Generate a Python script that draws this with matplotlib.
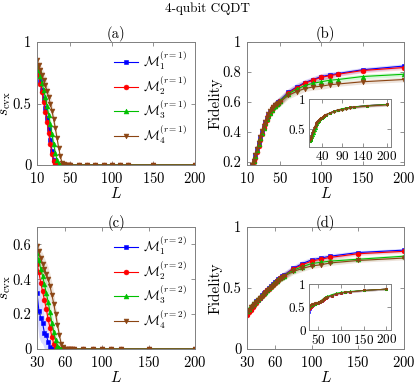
import matplotlib
matplotlib.use("Agg")
import matplotlib.pyplot as plt

plt.rcParams['font.family'] = 'serif'
plt.rcParams['font.serif'] = ['cmr10', 'DejaVu Serif']
plt.rcParams['mathtext.fontset'] = 'cm'
plt.rcParams['axes.formatter.use_mathtext'] = True

# ---------------- data ----------------
L_a = [10, 12, 14, 16, 18, 20, 22, 24, 26, 28, 30, 32, 34, 36, 38, 40, 42, 44, 46, 48, 50,
       60, 70, 80, 90, 100, 110, 120, 150, 200]
s_a1 = [0.80, 0.74, 0.68, 0.61, 0.54, 0.46, 0.38, 0.29, 0.20, 0.11, 0.04, 0.01, 0, 0, 0, 0, 0, 0, 0, 0, 0,
        0, 0, 0, 0, 0, 0, 0, 0, 0]
s_a2 = [0.80, 0.73, 0.66, 0.59, 0.51, 0.43, 0.35, 0.26, 0.17, 0.09, 0.03, 0.005, 0, 0, 0, 0, 0, 0, 0, 0, 0,
        0, 0, 0, 0, 0, 0, 0, 0, 0]
s_a3 = [0.82, 0.77, 0.72, 0.67, 0.61, 0.55, 0.48, 0.41, 0.33, 0.25, 0.17, 0.10, 0.04, 0.01, 0, 0, 0, 0, 0, 0, 0,
        0, 0, 0, 0, 0, 0, 0, 0, 0]
s_a4 = [0.85, 0.81, 0.77, 0.73, 0.69, 0.65, 0.60, 0.55, 0.50, 0.44, 0.37, 0.30, 0.22, 0.14, 0.07, 0.02, 0.005, 0, 0, 0, 0,
        0, 0, 0, 0, 0, 0, 0, 0, 0]
band_a = [0.03, 0.04, 0.05, 0.06, 0.07, 0.07, 0.07, 0.07, 0.07, 0.06, 0.05, 0.04, 0.03, 0.02, 0.01, 0.005, 0, 0, 0, 0, 0,
          0, 0, 0, 0, 0, 0, 0, 0, 0]

L_b = [16, 18, 20, 22, 24, 26, 28, 30, 32, 34, 36, 38, 40, 42, 44, 46, 48, 50,
       60, 70, 80, 90, 100, 110, 120, 150, 200]
f_b1 = [0.18, 0.21, 0.25, 0.29, 0.33, 0.37, 0.40, 0.435, 0.465, 0.49, 0.515, 0.535, 0.555, 0.57, 0.58, 0.59, 0.60, 0.61,
        0.665, 0.70, 0.73, 0.75, 0.77, 0.78, 0.79, 0.815, 0.84]
f_b2 = [0.17, 0.20, 0.23, 0.27, 0.31, 0.35, 0.39, 0.425, 0.455, 0.48, 0.505, 0.525, 0.545, 0.565, 0.575, 0.585, 0.595, 0.605,
        0.66, 0.695, 0.725, 0.745, 0.765, 0.775, 0.785, 0.81, 0.83]
f_b3 = [0.18, 0.21, 0.24, 0.28, 0.32, 0.36, 0.395, 0.43, 0.46, 0.485, 0.51, 0.53, 0.55, 0.565, 0.575, 0.585, 0.595, 0.605,
        0.655, 0.685, 0.71, 0.725, 0.735, 0.745, 0.75, 0.77, 0.785]
f_b4 = [0.18, 0.21, 0.25, 0.29, 0.33, 0.37, 0.405, 0.44, 0.47, 0.495, 0.52, 0.54, 0.555, 0.57, 0.58, 0.59, 0.595, 0.60,
        0.645, 0.67, 0.69, 0.70, 0.705, 0.715, 0.72, 0.735, 0.75]
band_b = [0.02, 0.02, 0.025, 0.025, 0.03, 0.03, 0.03, 0.03, 0.03, 0.03, 0.03, 0.03, 0.03, 0.03, 0.03, 0.03, 0.03, 0.03,
          0.025, 0.025, 0.02, 0.02, 0.02, 0.02, 0.015, 0.015, 0.015]

# inset of (b)
fi_b1 = [0.30, 0.33, 0.37, 0.41, 0.45, 0.49, 0.53, 0.56, 0.59, 0.61, 0.63, 0.65, 0.66, 0.67, 0.68, 0.69, 0.70, 0.71, 0.72, 0.73, 0.74,
         0.77, 0.80, 0.82, 0.83, 0.85, 0.86, 0.87, 0.89, 0.91]
fi_b2 = [0.30, 0.32, 0.35, 0.39, 0.43, 0.47, 0.51, 0.55, 0.58, 0.60, 0.62, 0.64, 0.66, 0.67, 0.68, 0.69, 0.70, 0.71, 0.72, 0.73, 0.74,
         0.77, 0.80, 0.82, 0.83, 0.85, 0.86, 0.87, 0.89, 0.91]
fi_b3 = [0.30, 0.32, 0.34, 0.37, 0.40, 0.44, 0.48, 0.52, 0.56, 0.59, 0.62, 0.64, 0.66, 0.67, 0.68, 0.69, 0.70, 0.71, 0.72, 0.73, 0.74,
         0.77, 0.80, 0.82, 0.84, 0.85, 0.86, 0.87, 0.89, 0.91]
fi_b4 = [0.31, 0.35, 0.39, 0.43, 0.47, 0.51, 0.54, 0.57, 0.60, 0.62, 0.64, 0.65, 0.66, 0.67, 0.68, 0.69, 0.70, 0.71, 0.72, 0.73, 0.74,
         0.77, 0.79, 0.81, 0.82, 0.84, 0.85, 0.86, 0.88, 0.90]

L_c = [30, 32, 34, 36, 38, 40, 42, 44, 46, 48, 50, 52, 54, 56, 58, 60, 62, 64, 66, 68, 70,
       80, 90, 100, 110, 120, 150, 200]
s_c1 = [0.32, 0.22, 0.18, 0.15, 0.09, 0.08, 0.04, 0.01, 0, 0, 0, 0, 0, 0, 0, 0, 0, 0, 0, 0, 0,
        0, 0, 0, 0, 0, 0, 0]
s_c2 = [0.49, 0.44, 0.38, 0.33, 0.28, 0.23, 0.17, 0.12, 0.07, 0.03, 0.01, 0, 0, 0, 0, 0, 0, 0, 0, 0, 0,
        0, 0, 0, 0, 0, 0, 0]
s_c3 = [0.55, 0.51, 0.46, 0.42, 0.37, 0.32, 0.27, 0.21, 0.15, 0.10, 0.05, 0.02, 0.005, 0, 0, 0, 0, 0, 0, 0, 0,
        0, 0, 0, 0, 0, 0, 0]
s_c4 = [0.59, 0.56, 0.52, 0.49, 0.46, 0.43, 0.40, 0.36, 0.31, 0.26, 0.20, 0.14, 0.08, 0.03, 0.01, 0, 0, 0, 0, 0, 0,
        0, 0, 0, 0, 0, 0, 0]
band_c1 = [0.15, 0.15, 0.14, 0.12, 0.09, 0.08, 0.05, 0.02, 0, 0, 0, 0, 0, 0, 0, 0, 0, 0, 0, 0, 0,
           0, 0, 0, 0, 0, 0, 0]
band_c = [0.03, 0.04, 0.05, 0.06, 0.06, 0.07, 0.07, 0.07, 0.07, 0.06, 0.05, 0.04, 0.03, 0.02, 0.01, 0.005, 0, 0, 0, 0, 0,
          0, 0, 0, 0, 0, 0, 0]

f_d1 = [0.29, 0.31, 0.33, 0.35, 0.37, 0.39, 0.405, 0.42, 0.44, 0.455, 0.47, 0.485, 0.50, 0.515, 0.53, 0.545, 0.56, 0.57, 0.585, 0.595, 0.605,
        0.66, 0.70, 0.73, 0.745, 0.76, 0.79, 0.81]
f_d2 = [0.28, 0.30, 0.32, 0.34, 0.36, 0.38, 0.40, 0.415, 0.435, 0.45, 0.465, 0.48, 0.495, 0.51, 0.525, 0.54, 0.555, 0.565, 0.58, 0.59, 0.60,
        0.655, 0.69, 0.72, 0.735, 0.75, 0.78, 0.80]
f_d3 = [0.31, 0.33, 0.35, 0.365, 0.38, 0.395, 0.41, 0.425, 0.44, 0.455, 0.47, 0.485, 0.50, 0.515, 0.53, 0.545, 0.555, 0.57, 0.58, 0.59, 0.60,
        0.645, 0.675, 0.70, 0.71, 0.72, 0.735, 0.76]
f_d4 = [0.30, 0.32, 0.34, 0.355, 0.37, 0.385, 0.40, 0.415, 0.43, 0.445, 0.46, 0.475, 0.49, 0.505, 0.52, 0.535, 0.55, 0.56, 0.575, 0.585, 0.595,
        0.635, 0.66, 0.68, 0.69, 0.705, 0.725, 0.745]
band_d = [0.03, 0.03, 0.03, 0.03, 0.03, 0.03, 0.03, 0.03, 0.03, 0.03, 0.03, 0.03, 0.03, 0.03, 0.03, 0.03, 0.03, 0.03, 0.03, 0.03, 0.03,
          0.025, 0.025, 0.02, 0.02, 0.02, 0.015, 0.015]

# inset of (d)
fi_d1 = [0.40, 0.45, 0.49, 0.52, 0.54, 0.555, 0.565, 0.575, 0.58, 0.585, 0.59, 0.60, 0.61, 0.62, 0.635, 0.65, 0.665, 0.68, 0.69, 0.70, 0.71,
         0.75, 0.78, 0.80, 0.82, 0.83, 0.86, 0.89]
fi_d2 = [0.45, 0.48, 0.51, 0.53, 0.545, 0.555, 0.565, 0.575, 0.58, 0.585, 0.59, 0.60, 0.61, 0.62, 0.635, 0.65, 0.665, 0.68, 0.69, 0.70, 0.71,
         0.75, 0.78, 0.80, 0.82, 0.83, 0.86, 0.89]
fi_d3 = [0.50, 0.52, 0.54, 0.55, 0.56, 0.565, 0.57, 0.575, 0.58, 0.59, 0.60, 0.61, 0.625, 0.64, 0.655, 0.67, 0.685, 0.70, 0.71, 0.72, 0.73,
         0.77, 0.80, 0.82, 0.83, 0.84, 0.86, 0.89]
fi_d4 = [0.50, 0.53, 0.55, 0.56, 0.565, 0.57, 0.575, 0.58, 0.585, 0.59, 0.595, 0.60, 0.61, 0.62, 0.635, 0.65, 0.665, 0.68, 0.69, 0.70, 0.71,
         0.75, 0.78, 0.80, 0.82, 0.83, 0.86, 0.89]

colors = ['#0000ff', '#ff0000', '#00c000', '#8b4513']
markers = ['s', 'o', '^', 'v']
edge = '#808080'


def style(ax, xlim, ylim, xticks, yticks, fs=10.5):
    ax.set_xlim(*xlim)
    ax.set_ylim(*ylim)
    ax.set_xticks(xticks)
    ax.set_yticks(yticks)
    ax.tick_params(direction='in', top=True, right=True, length=3, width=0.6,
                   color=edge, labelsize=fs)
    ax.tick_params(axis='x', pad=4.5)
    ax.tick_params(axis='y', pad=4)
    for sp in ax.spines.values():
        sp.set_color(edge)
        sp.set_linewidth(0.7)


def draw(ax, x, ys, bands, ms=3.5, lw=0.8):
    lines = []
    for i, y in enumerate(ys):
        b = bands[i]
        lo = [max(v - w, 0) for v, w in zip(y, b)]
        hi = [v + w for v, w in zip(y, b)]
        ax.fill_between(x, lo, hi, color=colors[i], alpha=0.15, lw=0)
        ln, = ax.plot(x, y, color=colors[i], marker=markers[i], ms=ms, lw=lw,
                      markeredgewidth=0.4)
        lines.append(ln)
    return lines


def add_legend(ax, lines, r):
    ax.legend(lines, [r'$\mathcal{M}_%d^{(r=%d)}$' % (k, r) for k in range(1, 5)],
              loc='upper right', frameon=False, fontsize=9.5, handlelength=1.8,
              labelspacing=0.15, borderaxespad=0.2, handletextpad=0.4)


fig = plt.figure(figsize=(4.15, 3.84), dpi=100)
fig.text(0.5, 0.978, '4-qubit CQDT', ha='center', va='center', fontsize=9.5)

# (a)
ax = fig.add_axes([0.0892, 0.5703, 0.3807, 0.3203])
lines = draw(ax, L_a, [s_a1, s_a2, s_a3, s_a4], [band_a, band_a, band_a, band_a])
style(ax, (10, 200), (0, 1), [10, 50, 100, 150, 200], [0, 0.5, 1])
ax.tick_params(axis='x', pad=4)
ax.set_yticklabels(['0', '0.5', '1'])
ax.set_title('(a)', fontsize=10.5, pad=3)
ax.set_xlabel('$L$', fontsize=11, labelpad=0)
ax.set_ylabel(r'$s_{\rm cvx}$', fontsize=11, labelpad=0)
add_legend(ax, lines, 1)

# (b)
ax = fig.add_axes([0.5952, 0.5703, 0.3783, 0.3203])
draw(ax, L_b, [f_b1, f_b2, f_b3, f_b4], [band_b] * 4)
style(ax, (10, 200), (0.18, 1), [10, 50, 100, 150, 200], [0.2, 0.4, 0.6, 0.8, 1])
ax.tick_params(axis='x', pad=4)
ax.set_yticklabels(['0.2', '0.4', '0.6', '0.8', '1'])
ax.set_title('(b)', fontsize=10.5, pad=3)
ax.set_xlabel('$L$', fontsize=11, labelpad=0)
ax.set_ylabel('Fidelity', fontsize=11, labelpad=0)

ax = fig.add_axes([0.7446, 0.6172, 0.1976, 0.125])
draw(ax, L_a, [fi_b1, fi_b2, fi_b3, fi_b4], [[0.02] * len(L_a)] * 4, ms=1.8, lw=0.6)
style(ax, (8, 210), (0.2, 1), [40, 90, 140, 200], [0.5, 1], fs=9.5)
ax.tick_params(axis='both', pad=2.5)
ax.set_yticklabels(['0.5', '1'])

# (c)
ax = fig.add_axes([0.0892, 0.0911, 0.3807, 0.318])
lines = draw(ax, L_c, [s_c1, s_c2, s_c3, s_c4], [band_c1, band_c, band_c, band_c])
style(ax, (30, 200), (0, 0.7), [30, 60, 100, 150, 200], [0, 0.2, 0.4, 0.6])
ax.set_yticklabels(['0', '0.2', '0.4', '0.6'])
ax.set_title('(c)', fontsize=10.5, pad=0)
ax.set_xlabel('$L$', fontsize=11, labelpad=0)
ax.set_ylabel(r'$s_{\rm cvx}$', fontsize=11, labelpad=0)
add_legend(ax, lines, 2)

# (d)
ax = fig.add_axes([0.5952, 0.0911, 0.3783, 0.318])
draw(ax, L_c, [f_d1, f_d2, f_d3, f_d4], [band_d] * 4)
style(ax, (30, 200), (0, 1), [30, 60, 100, 150, 200], [0, 0.5, 1])
ax.set_yticklabels(['0', '0.5', '1'])
ax.set_title('(d)', fontsize=10.5, pad=0)
ax.set_xlabel('$L$', fontsize=11, labelpad=0)
ax.set_ylabel('Fidelity', fontsize=11, labelpad=0)

ax = fig.add_axes([0.7446, 0.1406, 0.1976, 0.1198])
draw(ax, L_c, [fi_d1, fi_d2, fi_d3, fi_d4], [[0.02] * len(L_c)] * 4, ms=1.8, lw=0.6)
style(ax, (30, 210), (0, 1), [50, 100, 150, 200], [0, 0.5, 1], fs=9.5)
ax.tick_params(axis='both', pad=2.5)
ax.set_yticklabels(['0', '0.5', '1'])

fig.savefig('out.png', dpi=100)
